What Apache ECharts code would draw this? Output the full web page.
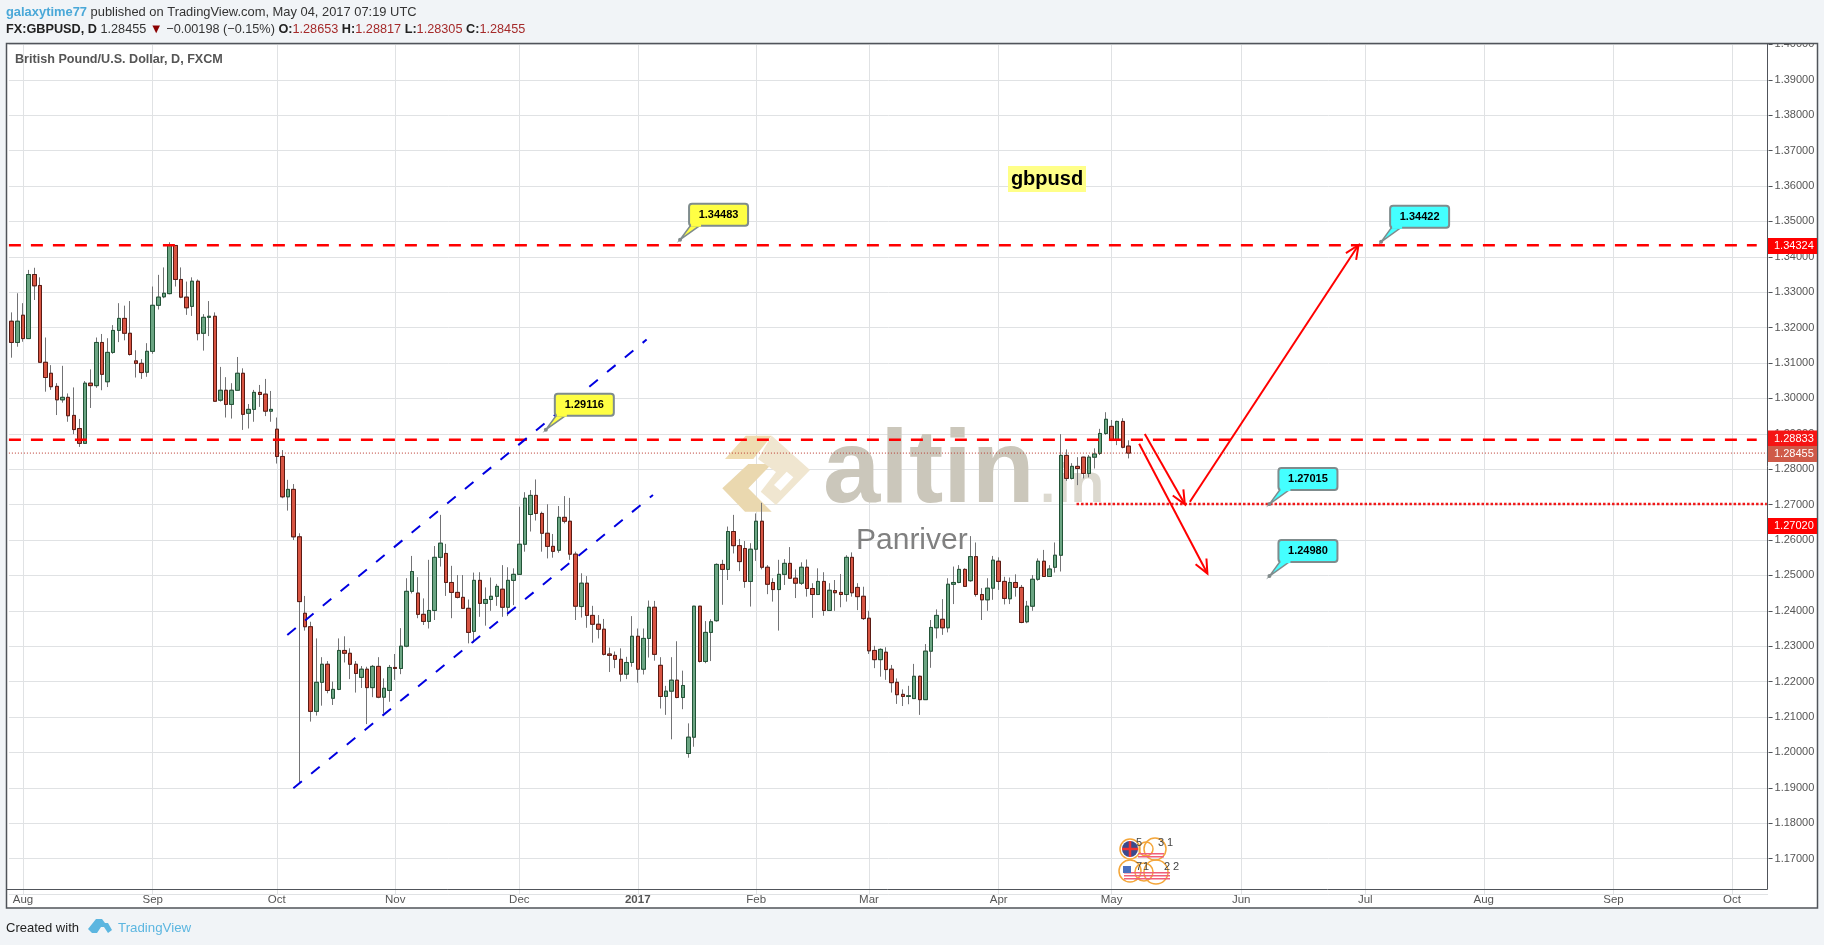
<!DOCTYPE html>
<html><head><meta charset="utf-8">
<style>html,body{margin:0;padding:0;background:#f1f4f7}#c{width:1824px;height:945px}</style>
<script src="https://cdn.jsdelivr.net/npm/echarts@6/dist/echarts.min.js"></script>
</head><body><div id="c"></div>
<script>
const opens=[1.3218,1.3158,1.3235,1.3169,1.3350,1.3319,1.3102,1.3071,1.3034,1.2996,
1.3003,1.2952,1.2915,1.2873,1.3043,1.3036,1.3158,1.3047,1.3130,1.3192,
1.3226,1.3184,1.3106,1.3099,1.3074,1.3133,1.3263,1.3287,1.3296,1.3432,
1.3336,1.3286,1.3260,1.3331,1.3184,1.3229,1.3232,1.2995,1.3023,1.2983,
1.3023,1.3071,1.2958,1.2969,1.3017,1.3012,1.2964,1.2913,1.2836,1.2722,
1.2743,1.2609,1.2393,1.2355,1.2116,1.2198,1.2249,1.2153,1.2178,1.2288,
1.2280,1.2249,1.2212,1.2235,1.2183,1.2243,1.2156,1.2175,1.2240,1.2237,
1.2300,1.2455,1.2450,1.2390,1.2370,1.2401,1.2551,1.2562,1.2480,1.2452,
1.2438,1.2407,1.2342,1.2486,1.2421,1.2432,1.2441,1.2461,1.2410,1.2486,
1.2503,1.2588,1.2672,1.2726,1.2675,1.2619,1.2582,1.2571,1.2664,1.2653,
1.2560,1.2412,1.2478,1.2387,1.2362,1.2348,1.2278,1.2274,1.2263,1.2221,
1.2254,1.2328,1.2235,1.2322,1.2410,1.2246,1.2158,1.2173,1.2204,1.2155,
1.1997,1.2043,1.2413,1.2257,1.2339,1.2372,1.2531,1.2517,1.2624,1.2584,
1.2576,1.2483,1.2574,1.2653,1.2523,1.2480,1.2460,1.2503,1.2534,1.2492,
1.2478,1.2523,1.2463,1.2446,1.2483,1.2401,1.2457,1.2452,1.2446,1.2551,
1.2466,1.2441,1.2379,1.2288,1.2262,1.2283,1.2235,1.2198,1.2164,1.2158,
1.2152,1.2215,1.2149,1.2286,1.2352,1.2376,1.2352,1.2475,1.2480,1.2517,
1.2485,1.2553,1.2446,1.2431,1.2464,1.2540,1.2483,1.2434,1.2480,1.2466,
1.2369,1.2413,1.2489,1.2540,1.2497,1.2523,1.2557,1.2839,1.2774,1.2808,
1.2834,1.2788,1.2834,1.2845,1.2901,1.2921,1.2883,1.2935,1.28653];
const highs=[1.3243,1.3297,1.3269,1.3363,1.3369,1.3342,1.3172,1.3094,1.3043,1.3092,
1.3014,1.3031,1.2942,1.3049,1.3082,1.3172,1.3182,1.3170,1.3207,1.3269,
1.3262,1.3275,1.3136,1.3111,1.3156,1.3316,1.3349,1.3370,1.3441,1.3433,
1.3370,1.3330,1.3342,1.3336,1.3238,1.3275,1.3243,1.3089,1.3060,1.3043,
1.3117,1.3085,1.2984,1.3024,1.3038,1.3055,1.3021,1.2946,1.2854,1.2770,
1.2758,1.2619,1.2442,1.2369,1.2322,1.2269,1.2258,1.2200,1.2322,1.2328,
1.2294,1.2258,1.2244,1.2242,1.2247,1.2269,1.2209,1.2247,1.2278,1.2351,
1.2492,1.2555,1.2495,1.2435,1.2544,1.2583,1.2671,1.2589,1.2527,1.2501,
1.2501,1.2432,1.2508,1.2509,1.2466,1.2494,1.2476,1.2529,1.2523,1.2520,
1.2694,1.2735,1.2741,1.2771,1.2680,1.2701,1.2617,1.2696,1.2724,1.2719,
1.2567,1.2506,1.2498,1.2414,1.2388,1.2377,1.2296,1.2285,1.2294,1.2270,
1.2385,1.2350,1.2350,1.2429,1.2428,1.2269,1.2188,1.2269,1.2314,1.2231,
1.2082,1.2414,1.2414,1.2371,1.2376,1.2534,1.2544,1.2638,1.2671,1.2603,
1.2597,1.2591,1.2675,1.2705,1.2529,1.2492,1.2544,1.2546,1.2580,1.2517,
1.2537,1.2545,1.2478,1.2520,1.2509,1.2478,1.2487,1.2504,1.2557,1.2565,
1.2478,1.2468,1.2400,1.2301,1.2294,1.2297,1.2247,1.2209,1.2178,1.2188,
1.2250,1.2217,1.2306,1.2374,1.2404,1.2433,1.2492,1.2525,1.2529,1.2520,
1.2611,1.2593,1.2464,1.2492,1.2555,1.2551,1.2496,1.2494,1.2503,1.2473,
1.2428,1.2501,1.2548,1.2572,1.2529,1.2593,1.2899,1.2856,1.2817,1.2834,
1.2835,1.2840,1.2859,1.2914,1.2961,1.2939,1.2937,1.2944,1.28817];
const lows=[1.3115,1.3146,1.3160,1.3168,1.3278,1.3100,1.3019,1.3024,1.2953,1.2988,
1.2934,1.2899,1.2863,1.2872,1.2973,1.3030,1.3023,1.3032,1.3126,1.3159,
1.3164,1.3121,1.3059,1.3055,1.3061,1.3126,1.3251,1.3283,1.3294,1.3316,
1.3283,1.3236,1.3233,1.3164,1.3135,1.3176,1.2990,1.2991,1.2946,1.2943,
1.3022,1.2911,1.2915,1.2934,1.2976,1.2950,1.2934,1.2816,1.2718,1.2683,
1.2600,1.1913,1.2344,1.2087,1.2104,1.2132,1.2167,1.2134,1.2176,1.2254,
1.2207,1.2169,1.2182,1.2080,1.2156,1.2153,1.2110,1.2143,1.2205,1.2221,
1.2297,1.2449,1.2379,1.2360,1.2350,1.2374,1.2525,1.2442,1.2379,1.2435,
1.2405,1.2308,1.2310,1.2383,1.2358,1.2400,1.2414,1.2383,1.2385,1.2416,
1.2501,1.2567,1.2624,1.2655,1.2567,1.2548,1.2550,1.2564,1.2647,1.2544,
1.2374,1.2381,1.2352,1.2310,1.2322,1.2274,1.2227,1.2238,1.2200,1.2207,
1.2242,1.2197,1.2220,1.2268,1.2259,1.2124,1.2106,1.2037,1.2153,1.2122,
1.1985,1.2016,1.2254,1.2252,1.2258,1.2369,1.2417,1.2487,1.2562,1.2512,
1.2465,1.2412,1.2541,1.2517,1.2447,1.2426,1.2344,1.2473,1.2490,1.2436,
1.2473,1.2440,1.2380,1.2445,1.2386,1.2400,1.2400,1.2410,1.2426,1.2440,
1.2402,1.2374,1.2278,1.2238,1.2214,1.2205,1.2169,1.2137,1.2131,1.2136,
1.2151,1.2106,1.2148,1.2239,1.2322,1.2332,1.2339,1.2419,1.2478,1.2468,
1.2482,1.2440,1.2374,1.2400,1.2431,1.2459,1.2418,1.2419,1.2440,1.2365,
1.2365,1.2400,1.2485,1.2496,1.2496,1.2508,1.2511,1.2767,1.2771,1.2755,
1.2774,1.2777,1.2802,1.2840,1.2897,1.2880,1.2868,1.2859,1.28305];
const closes=[1.3158,1.3218,1.3169,1.3350,1.3318,1.3102,1.3059,1.3033,1.2996,1.3003,
1.2951,1.2912,1.2873,1.3043,1.3036,1.3158,1.3068,1.3130,1.3192,1.3226,
1.3184,1.3124,1.3099,1.3073,1.3133,1.3263,1.3286,1.3297,1.3432,1.3336,
1.3286,1.3256,1.3331,1.3183,1.3229,1.3232,1.2992,1.3023,1.2983,1.3023,
1.3071,1.2955,1.2969,1.3017,1.3011,1.2964,1.2969,1.2836,1.2722,1.2743,
1.2609,1.2426,1.2355,1.2116,1.2198,1.2249,1.2175,1.2178,1.2288,1.2280,
1.2249,1.2223,1.2235,1.2183,1.2243,1.2156,1.2181,1.2240,1.2237,1.2300,
1.2455,1.2511,1.2390,1.2370,1.2401,1.2551,1.2591,1.2480,1.2452,1.2438,
1.2407,1.2339,1.2486,1.2421,1.2432,1.2441,1.2469,1.2410,1.2486,1.2503,
1.2588,1.2718,1.2726,1.2675,1.2619,1.2582,1.2568,1.2664,1.2653,1.2560,
1.2413,1.2478,1.2387,1.2362,1.2348,1.2277,1.2274,1.2263,1.2221,1.2254,
1.2328,1.2235,1.2322,1.2410,1.2277,1.2158,1.2173,1.2204,1.2155,1.2189,
1.2043,1.2413,1.2257,1.2339,1.2369,1.2531,1.2517,1.2624,1.2584,1.2539,
1.2483,1.2574,1.2653,1.2523,1.2475,1.2460,1.2503,1.2534,1.2492,1.2478,
1.2523,1.2463,1.2446,1.2483,1.2401,1.2458,1.2451,1.2446,1.2551,1.2451,
1.2440,1.2378,1.2287,1.2262,1.2291,1.2234,1.2197,1.2163,1.2158,1.2160,
1.2215,1.2149,1.2286,1.2353,1.2387,1.2352,1.2475,1.2480,1.2517,1.2469,
1.2553,1.2446,1.2431,1.2464,1.2543,1.2483,1.2435,1.2480,1.2466,1.2367,
1.2413,1.2489,1.2540,1.2497,1.2518,1.2557,1.2839,1.2774,1.2808,1.2802,
1.2788,1.2834,1.2843,1.2901,1.2941,1.2881,1.2935,1.2862,1.28455];

// month ticks: bar number of each month start, and its label
const tickIndex=[2,25,47,68,90,111,132,152,175,195,218,240,261,284,305];
const tickText=['Aug','Sep','Oct','Nov','Dec','2017','Feb','Mar','Apr','May','Jun','Jul','Aug','Sep','Oct'];
const barCount=312;
const categories=Array.from({length:barCount},(_,i)=>String(i));

// drawings, [bar, price]
const resistanceHigh=[[-0.5,1.34324],[309.4,1.34324]];
const resistanceMid=[[-0.5,1.28833],[309.4,1.28833]];
const lastPriceLine=[[-0.5,1.28455],[311.5,1.28455]];
const supportLine=[[188.8,1.27015],[311.2,1.27015]];
const channelUpper=[[48.86,1.23316],[112.57,1.31661]];
const channelLower=[[49.93,1.18986],[113.7,1.27271]];
// arrows: startBar,startPrice,endBar,endPrice
const arrows=[[208.9,1.27079,238.8,1.34333],[200.9,1.28994,208.0,1.27008],[199.9,1.28717,212.0,1.25054]];
// callouts: bar, price
const callouts=[[118.5,1.34483],[94.7,1.29116],[242.8,1.34422],[223.0,1.27015],[223.0,1.24980]];
const calloutFills=['#ffff44','#ffff44','#44ffff','#44ffff','#44ffff'];
// price tags on the right scale
const tagTexts=['1.34324','1.28833','1.28455','1.27020'];
const tagColors=['#ff0000','#f51414','#cf5a49','#ff0000'];
const tagTops=[238,430.5,446,518];

const SANS='"Liberation Sans",Arial,sans-serif';
const BG='#f1f4f7';
const isTick=i=>tickIndex.includes(i);

function arrowItem(params,api){
  const a=api.coord([api.value(0),api.value(1)]),b=api.coord([api.value(2),api.value(3)]);
  const ang=Math.atan2(a[1]-b[1],a[0]-b[0]),L=15,W=0.42;
  const w1=[b[0]+L*Math.cos(ang+W),b[1]+L*Math.sin(ang+W)],w2=[b[0]+L*Math.cos(ang-W),b[1]+L*Math.sin(ang-W)];
  const st={stroke:'#ff0000',lineWidth:2,fill:null};
  return {type:'group',children:[
    {type:'polyline',shape:{points:[a,b]},style:st},
    {type:'polyline',shape:{points:[w1,b,w2]},style:st}]};
}
function calloutItem(params,api){
  const p=api.coord([api.value(0),api.value(1)]),x=p[0],y=p[1],fill=calloutFills[params.dataIndex];
  return {type:'group',children:[
    {type:'polygon',shape:{points:[[x,y],[x+11,y-15],[x+21,y-15]]},style:{fill:fill,stroke:'#7f8c8d',lineWidth:1.5}},
    {type:'rect',shape:{x:x+9,y:y-36,width:59,height:22,r:3},style:{fill:fill,stroke:'#7f8c8d',lineWidth:2}},
    {type:'rect',shape:{x:x+11,y:y-16,width:10,height:3},style:{fill:fill}},
    {type:'circle',shape:{cx:x,cy:y,r:2},style:{fill:'#808a8a'}},
    {type:'text',style:{text:api.value(1).toFixed(5),x:x+38.5,y:y-25,align:'center',verticalAlign:'middle',fill:'#000',font:'bold 11px '+SANS}}]};
}
const lineSeries=(data,color,width,dash)=>({type:'line',xAxisIndex:1,data:data,symbol:'none',silent:true,animation:false,z:4,
  lineStyle:{color:color,width:width,type:dash}});

const gfx=[];
const add=e=>gfx.push(e);
// panel, watermark
add({type:'rect',z:-1,shape:{x:7,y:44,width:1810,height:864},style:{fill:'#fff'}});
const wm=[['#efdcb0',[[725,459],[745.7,435.7],[771.7,435.7],[753.3,459]]],
 ['#ead8af',[[722.3,488.3],[748.3,464],[771.7,464],[748.3,488.3],[771.7,511.7],[745,511.7]]],
 ['#f0e6d0',[[771.7,435.7],[810,470],[776,505],[760.7,491.7],[776,472],[758,459]]],
 ['#ffffff',[[774,485],[786.7,471.7],[793.3,477.3],[780.7,490.7]]]];
wm.forEach(w=>add({type:'polygon',z:1,silent:true,shape:{points:w[1]},style:{fill:w[0]}}));
add({type:'text',z:1,silent:true,style:{text:'altin',x:823,y:525,verticalAlign:'bottom',fill:'#cbc7bb',font:'bold 103px '+SANS}});
add({type:'text',z:1,silent:true,style:{text:'.in',x:1040,y:514,fill:'#dcd9cf',font:'bold 55px '+SANS,verticalAlign:'bottom'}});
add({type:'text',z:1,silent:true,style:{text:'Panriver',x:856,y:556,fill:'#808080',font:'30px '+SANS,verticalAlign:'bottom'}});
add({type:'rect',z:1,silent:true,shape:{x:1008,y:166,width:78,height:26},style:{fill:'#ffff88'}});
add({type:'text',z:6,silent:true,style:{text:'gbpusd',x:1047,y:179,align:'center',verticalAlign:'middle',fill:'#000',font:'bold 20px '+SANS}});
add({type:'text',z:6,silent:true,style:{text:'British Pound/U.S. Dollar, D, FXCM',x:15,y:60,verticalAlign:'middle',fill:'#555',font:'bold 12.6px '+SANS}});
// header strip and frame
add({type:'rect',z:10,shape:{x:0,y:0,width:1824,height:43.5},style:{fill:BG}});
add({type:'rect',z:11,shape:{x:6.5,y:43.5,width:1811,height:864.5},style:{fill:null,stroke:'#50545a',lineWidth:1.5}});
add({type:'line',z:11,shape:{x1:7,y1:889.5,x2:1767.5,y2:889.5},style:{stroke:'#50545a',lineWidth:1}});
add({type:'line',z:11,shape:{x1:1767.5,y1:44,x2:1767.5,y2:889.5},style:{stroke:'#50545a',lineWidth:1}});
add({type:'rect',z:3,shape:{x:1768,y:890.5,width:12,height:8},style:{fill:'#fff'}});
// tags
tagTexts.forEach((t,i)=>{
  add({type:'rect',z:12,shape:{x:1768,y:tagTops[i],width:49,height:16},style:{fill:tagColors[i]}});
  add({type:'text',z:13,style:{text:t,x:1774,y:tagTops[i]+8,verticalAlign:'middle',fill:'#fff',font:'11px '+SANS}});
});
// header text
add({type:'text',z:13,style:{x:6,y:12,verticalAlign:'middle',font:'12.9px '+SANS,fill:'#333',
  text:'{a|galaxytime77} published on TradingView.com, May 04, 2017 07:19 UTC',rich:{a:{fill:'#4aa8d8',font:'bold 12.9px '+SANS}}}});
add({type:'text',z:13,style:{x:6,y:29.5,verticalAlign:'middle',font:'12.7px '+SANS,fill:'#333',
  text:'{b|FX:GBPUSD, D} 1.28455 {d|▼} −0.00198 (−0.15%) {b|O:}{r|1.28653} {b|H:}{r|1.28817} {b|L:}{r|1.28305} {b|C:}{r|1.28455}',
  rich:{b:{fill:'#222',font:'bold 12.7px '+SANS},r:{fill:'#a52a2a',font:'12.7px '+SANS},d:{fill:'#8b0000',font:'13px '+SANS}}}});
// footer
add({type:'text',z:13,style:{text:'Created with',x:6,y:928,verticalAlign:'middle',fill:'#222',font:'13px '+SANS}});
add({type:'polygon',z:13,shape:{points:[[88,929],[96,919],[102,919],[105,923],[108,923],[112,930],[108,933],[104,927],[101,927],[97,933],[92,933]]},style:{fill:'#5cb6e0'}});
add({type:'text',z:13,style:{text:'TradingView',x:118,y:928,verticalAlign:'middle',fill:'#5cb6e0',font:'13.3px '+SANS}});
// calendar flags icon
[[1130,849,10],[1155,849,11],[1130,871,11],[1156,872,12],[1144,872,9],[1146,849,7]].forEach(c=>add({type:'circle',z:6,shape:{cx:c[0],cy:c[1],r:c[2]},style:{fill:null,stroke:'#f4a63a',lineWidth:1.5}}));
add({type:'circle',z:6,shape:{cx:1130,cy:849,r:8},style:{fill:'#3b4a8c'}});
add({type:'line',z:6,shape:{x1:1122,y1:849,x2:1138,y2:849},style:{stroke:'#e33',lineWidth:2.5}});
add({type:'line',z:6,shape:{x1:1130,y1:841,x2:1130,y2:857},style:{stroke:'#e33',lineWidth:2.5}});
[[1138,853],[1138,856],[1124,875],[1124,878],[1124,872]].forEach(s=>add({type:'rect',z:6,shape:{x:s[0],y:s[1],width:s[0]<1130?46:26,height:1.5},style:{fill:'#f0607a'}}));
add({type:'rect',z:6,shape:{x:1123,y:866,width:8,height:7},style:{fill:'#4a6fc0'}});
[['5',1139,843],['3',1161,843],['1',1170,843],['7',1139,867],['1',1146,867],['2',1167,867],['2',1176,867]].forEach(t=>
  add({type:'text',z:6,style:{text:t[0],x:t[1],y:t[2],align:'center',verticalAlign:'middle',fill:'#444',font:'11px '+SANS}}));

const candleStyle={color:'#6ba583',color0:'#d75442',borderColor:'#225437',borderColor0:'#5b1a13',borderWidth:1};
const option={
  animation:false,
  backgroundColor:BG,
  textStyle:{fontFamily:SANS},
  graphic:{elements:gfx},
  grid:{left:8.9,width:1759.68,top:44.4,height:849.6,containLabel:false,show:false},
  xAxis:[
    {type:'category',data:categories,boundaryGap:true,
     axisLine:{show:false},axisTick:{show:false},
     splitLine:{show:true,interval:i=>isTick(i),alignWithLabel:true,lineStyle:{color:'#e0e2e4',width:1}},
     axisLabel:{margin:0,interval:i=>isTick(i),color:'#555',fontSize:11.5,fontFamily:SANS,
       formatter:(v,i)=>{const k=tickIndex.indexOf(Number(v));const t=k<0?'':tickText[k];return t==='2017'?'{y|2017}':t;},
       rich:{y:{fontWeight:'bold',color:'#555',fontSize:11.5,fontFamily:SANS}}}},
    {type:'value',min:-0.5,max:311.5,show:false}
  ],
  yAxis:{type:'value',position:'right',min:1.16,max:1.40,interval:0.01,scale:true,
    axisLine:{show:false,onZero:false},axisTick:{show:true,length:4,lineStyle:{color:'#50545a'}},
    splitLine:{show:true,lineStyle:{color:'#e0e2e4',width:1}},
    axisLabel:{margin:6,color:'#555',fontSize:11,fontFamily:SANS,showMinLabel:false,formatter:v=>v.toFixed(5)}},
  series:[
    {type:'candlestick',name:'GBPUSD wicks',barWidth:4,silent:true,z:2,
     itemStyle:{color:'#737375',color0:'#737375',borderColor:'#737375',borderColor0:'#737375',borderWidth:1},
     data:opens.map((o,i)=>[o,closes[i],lows[i],highs[i]])},
    {type:'candlestick',name:'GBPUSD',barWidth:4,silent:true,z:3,itemStyle:candleStyle,
     data:opens.map((o,i)=>[o,closes[i],Math.min(o,closes[i]),Math.max(o,closes[i])])},
    lineSeries(lastPriceLine,'#b8332a',1,[1,2]),
    lineSeries(resistanceHigh,'#ff0000',2.5,[12,10]),
    lineSeries(resistanceMid,'#ff0000',2.5,[12,10]),
    lineSeries(supportLine,'#f01818',2.5,[2.5,2]),
    lineSeries(channelUpper,'#0000e0',2,[11,12]),
    lineSeries(channelLower,'#0000e0',2,[11,12]),
    {type:'custom',xAxisIndex:1,renderItem:arrowItem,data:arrows,z:5,silent:true,encode:{x:[0,2],y:[1,3]},clip:false},
    {type:'custom',xAxisIndex:1,renderItem:calloutItem,data:callouts,z:6,silent:true,encode:{x:0,y:1},clip:false}
  ]
};
const chart=echarts.init(document.getElementById('c'),null,{width:1824,height:945});
chart.setOption(option);
</script></body></html>
